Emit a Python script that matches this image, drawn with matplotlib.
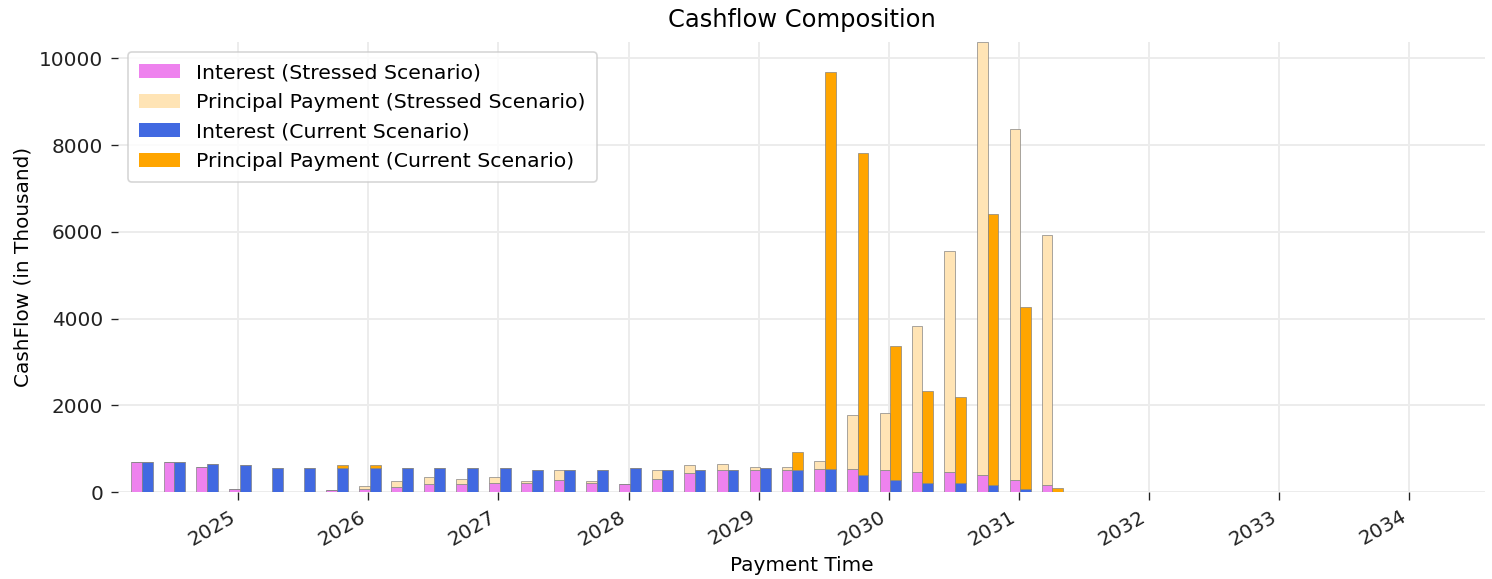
import pandas as pd
import matplotlib.pyplot as plt
import matplotlib.dates as mdates

# Quarterly payment dates
pay_dates = pd.date_range('2024-04-01', periods=29, freq='QS') + pd.Timedelta(days=4)

# Stressed scenario (in thousand)
stressed_interest = [685, 685, 577, 77, 0, 0, 46, 69, 108, 177, 177, 208, 208, 277, 208,
                     177, 308, 447, 516, 516, 510, 540, 538, 508, 469, 469, 400, 269, 169]
stressed_principal = [0, 0, 0, 0, 0, 0, 0, 70, 146, 169, 131, 138, 46, 239, 46,
                      0, 208, 176, 131, 61, 60, 170, 1231, 1322, 3361, 5091, 9974, 8098, 5760]

# Current scenario (in thousand)
current_interest = [685, 685, 647, 616, 546, 546, 546, 546, 546, 546, 546, 546, 516, 516, 516,
                    546, 516, 516, 516, 546, 510, 540, 400, 269, 200, 200, 169, 69, 0]
current_principal = [0, 0, 0, 0, 0, 0, 77, 77, 0, 0, 0, 0, 0, 0, 0,
                     0, 0, 0, 0, 0, 415, 9157, 7428, 3092, 2138, 1999, 6244, 4199, 100]

width = pd.Timedelta(days=30)
half = pd.Timedelta(days=15)
x_stressed = pay_dates - half
x_current = pay_dates + half

fig = plt.figure(figsize=(1492 / 120, 579 / 120), dpi=120)
ax = fig.add_axes([118 / 1492, 1 - 492 / 579, (1485 - 118) / 1492, (492 - 42) / 579])

edge = dict(edgecolor='grey', linewidth=0.4)
ax.bar(x_stressed, stressed_interest, width=width, color='violet',
       label='Interest (Stressed Scenario)', **edge)
ax.bar(x_stressed, stressed_principal, width=width, bottom=stressed_interest, color='moccasin',
       label='Principal Payment (Stressed Scenario)', **edge)
ax.bar(x_current, current_interest, width=width, color='royalblue',
       label='Interest (Current Scenario)', **edge)
ax.bar(x_current, current_principal, width=width, bottom=current_interest, color='orange',
       label='Principal Payment (Current Scenario)', **edge)

ax.set_xlim(pd.Timestamp('2024-01-29'), pd.Timestamp('2034-08-01'))
ax.set_ylim(0, 10380)
ax.set_yticks(range(0, 10001, 2000))
ax.xaxis.set_major_locator(mdates.YearLocator())
ax.xaxis.set_major_formatter(mdates.DateFormatter('%Y'))

for s in ax.spines.values():
    s.set_visible(False)
ax.grid(True, color='#ececec', linewidth=1.2)
ax.set_axisbelow(True)
ax.tick_params(labelsize=12, colors='#222222', length=4.5, pad=4.5)

ax.set_title('Cashflow Composition', fontsize=14.5, pad=9)
ax.set_xlabel('Payment Time', fontsize=12)
ax.set_ylabel('CashFlow (in Thousand)', fontsize=12)
plt.setp(ax.get_xticklabels(), rotation=30, ha='right')
leg = ax.legend(loc='upper left', fontsize=12.2, borderpad=0.55, labelspacing=0.52)
for h in leg.legend_handles:
    h.set_edgecolor('none')

fig.savefig('out.png', dpi=120)
